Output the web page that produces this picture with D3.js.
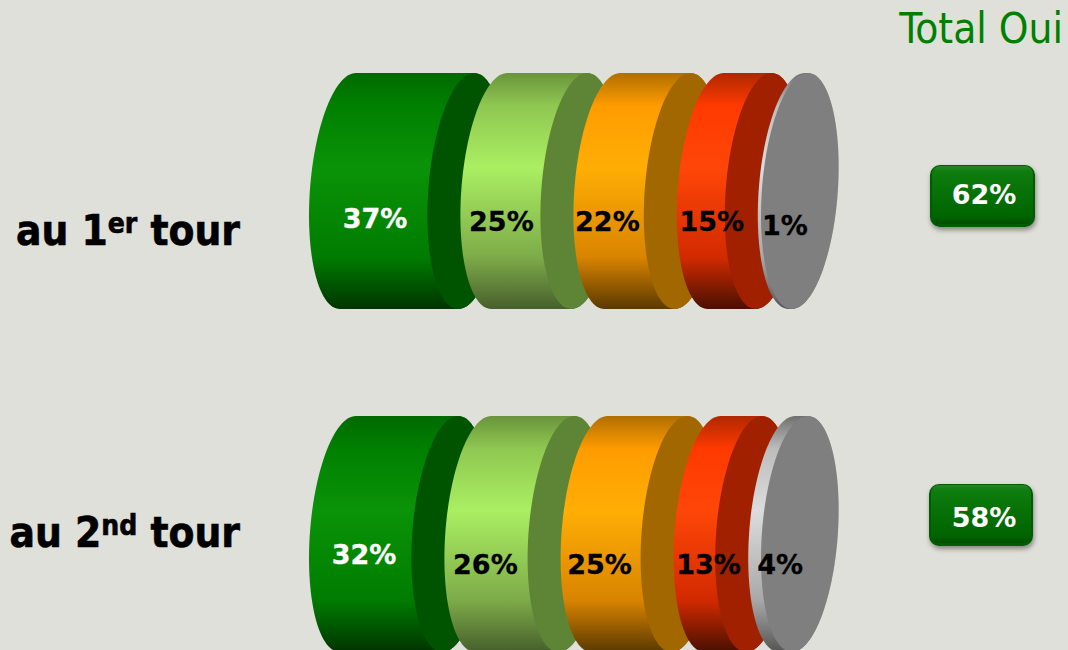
<!DOCTYPE html>
<html>
<head>
<meta charset="utf-8">
<script src="https://cdn.jsdelivr.net/npm/d3@7"></script>
<style>
    html, body { margin: 0; padding: 0; background: #dfe0da; overflow: hidden; }
    svg { display: block; }
    text { font-family: "DejaVu Sans", sans-serif; }
    text.narrow { font-family: "DejaVu Sans Condensed", "DejaVu Sans", sans-serif; font-stretch: condensed; }
</style>
</head>
<body>
<div id="chart"></div>
<script>
// values
var rounds = ['1', '2'];
var roundSuffix = ['er', 'nd'];
var firstRound = [37, 25, 22, 15, 1];
var secondRound = [32, 26, 25, 13, 4];
var yesSegments = 2; // the two green slices make "Total Oui"

var width = 1068,
    height = 650,
    ry = 118,
    rx = 38,
    skew = 8,
    depth = 33,
    halfWidth = Math.sqrt(rx * rx + skew * skew);

var rowCenters = [191, 534];
var titleBaselines = [245, 547];
var badgeRects = [{x: 930, y: 165, w: 105, h: 62, base: 204}, {x: 929, y: 484, w: 104, h: 62, base: 527}];

// labels were hand placed in the original
var labelNudge = [[66, 41, 34, 35, 27], [55, 41, 39, 35, 32]];
var labelDy = [[37, 40, 40, 40, 44], [30, 40, 40, 40, 40]];

var palette = [
    {cap: '#005400', text: '#fff', stops: ['#006a00', '#008000', '#0a9308', '#007c00', '#003400']},
    {cap: '#5e8536', text: '#000', stops: ['#6a943c', '#8fc851', '#aaef62', '#7dab49', '#475f2c']},
    {cap: '#a36700', text: '#000', stops: ['#b06f00', '#ff9c00', '#ffae05', '#d98400', '#5a3900']},
    {cap: '#a12000', text: '#000', stops: ['#b02800', '#ff3a00', '#ff4608', '#d22a00', '#481000']},
    {cap: '#7f7f7f', text: '#000', stops: ['#707070', '#bdbdbd', '#dcdcdc', '#a8a8a8', '#555555']}
];
var stopOffsets = [0, 0.14, 0.4, 0.78, 1];

var xScale = d3.scaleLinear().domain([0, 100]).range([0, 320]);

var svg = d3.select('#chart').append('svg')
    .attr('width', width)
    .attr('height', height)
    .attr('viewBox', '0 0 ' + width + ' ' + height);

svg.append('rect')
    .attr('width', width)
    .attr('height', height)
    .attr('fill', '#dfe0da');

var defs = svg.append('defs');

palette.forEach(function (p, i) {
    var grad = defs.append('linearGradient')
        .attr('id', 'body' + i)
        .attr('x1', 0).attr('y1', 0).attr('x2', 0).attr('y2', 1);
    p.stops.forEach(function (c, j) {
        grad.append('stop').attr('offset', stopOffsets[j]).attr('stop-color', c);
    });
});

var badgeGrad = defs.append('linearGradient')
    .attr('id', 'badge')
    .attr('x1', 0).attr('y1', 0).attr('x2', 0).attr('y2', 1);
[[0, '#258525'], [0.1, '#0e7c0e'], [0.5, '#067006'], [0.88, '#006400'], [1, '#004e00']].forEach(function (s) {
    badgeGrad.append('stop').attr('offset', s[0]).attr('stop-color', s[1]);
});

var shadow = defs.append('filter')
    .attr('id', 'badgeShadow')
    .attr('x', '-20%').attr('y', '-20%').attr('width', '140%').attr('height', '150%');
shadow.append('feDropShadow')
    .attr('dx', 1).attr('dy', 3).attr('stdDeviation', 2.5)
    .attr('flood-color', '#000').attr('flood-opacity', 0.4);

var outline = d3.line()
    .x(function (d) { return d[0]; })
    .y(function (d) { return d[1]; });

// point on the tilted ellipse, t in radians
var ellipsePoint = function (cx, cy, t) {
    return [cx + rx * Math.cos(t) - skew * Math.sin(t), cy + ry * Math.sin(t)];
};

var capPath = function (cx, cy) {
    var pts = d3.range(0, 121).map(function (k) {
        return ellipsePoint(cx, cy, k / 120 * 2 * Math.PI);
    });
    return outline(pts) + 'Z';
};

var bodyPath = function (cx0, cx1, cy) {
    var pts = [];
    // back along the left arc, then the right arc of the end cap
    d3.range(0, 61).forEach(function (k) {
        pts.push(ellipsePoint(cx0, cy, -Math.PI / 2 - k / 60 * Math.PI));
    });
    d3.range(0, 61).forEach(function (k) {
        pts.push(ellipsePoint(cx1, cy, Math.PI / 2 - k / 60 * Math.PI));
    });
    return outline(pts) + 'Z';
};

var drawRow = function (values, r) {
    var cy = rowCenters[r],
        row = svg.append('g').attr('class', 'row'),
        left = 309;

    var segments = values.map(function (v, i) {
        var seg = {value: v, index: i, x0: left, x1: left + xScale(v)};
        left = seg.x1 + depth;
        return seg;
    });

    var seg = row.selectAll('.segment')
        .data(segments)
        .enter().append('g')
        .attr('class', 'segment');

    seg.append('path')
        .attr('d', function (d) {
            return bodyPath(d.x0 + halfWidth, d.x1 + halfWidth, cy);
        })
        .attr('fill', function (d) { return 'url(#body' + d.index + ')'; });

    seg.append('path')
        .attr('d', function (d) { return capPath(d.x1 + halfWidth, cy); })
        .attr('fill', function (d) { return palette[d.index].cap; });

    row.selectAll('.pct')
        .data(segments)
        .enter().append('text')
        .attr('class', 'pct')
        .attr('x', function (d) { return d.x0 + labelNudge[r][d.index]; })
        .attr('y', function (d) { return cy + labelDy[r][d.index]; })
        .attr('text-anchor', 'middle')
        .attr('font-size', 27)
        .attr('font-weight', 'bold')
        .attr('fill', function (d) { return palette[d.index].text; })
        .attr('stroke', function (d) { return palette[d.index].text; })
        .attr('stroke-width', 0.3)
        .text(function (d) { return d.value + '%'; });

    // row title
    var title = svg.append('text')
        .attr('class', 'narrow')
        .attr('x', 240)
        .attr('y', titleBaselines[r])
        .attr('text-anchor', 'end')
        .attr('font-size', 42)
        .attr('font-weight', 'bold')
        .attr('fill', '#000')
        .attr('stroke', '#000')
        .attr('stroke-width', 0.6);
    title.append('tspan').text('au ' + rounds[r]);
    title.append('tspan')
        .attr('font-size', 28)
        .attr('dy', -12)
        .text(roundSuffix[r]);
    title.append('tspan')
        .attr('dy', 12)
        .text(' tour');

    // total badge
    var b = badgeRects[r];
    svg.append('rect')
        .attr('x', b.x).attr('y', b.y)
        .attr('width', b.w).attr('height', b.h)
        .attr('rx', 10).attr('ry', 10)
        .attr('fill', '#005c00')
        .attr('filter', 'url(#badgeShadow)');
    svg.append('rect')
        .attr('x', b.x + 2).attr('y', b.y + 1)
        .attr('width', b.w - 4).attr('height', b.h - 4)
        .attr('rx', 8).attr('ry', 8)
        .attr('fill', 'url(#badge)');
    svg.append('text')
        .attr('x', 984)
        .attr('y', b.base)
        .attr('text-anchor', 'middle')
        .attr('font-size', 27)
        .attr('font-weight', 'bold')
        .attr('fill', '#fff')
        .text(d3.sum(values.slice(0, yesSegments)) + '%');
};

[firstRound, secondRound].forEach(drawRow);

svg.append('text')
    .attr('class', 'narrow')
    .attr('x', 1063)
    .attr('y', 43)
    .attr('text-anchor', 'end')
    .attr('font-size', 42)
    .attr('fill', '#008000')
    .text('Total Oui');
</script>
</body>
</html>
